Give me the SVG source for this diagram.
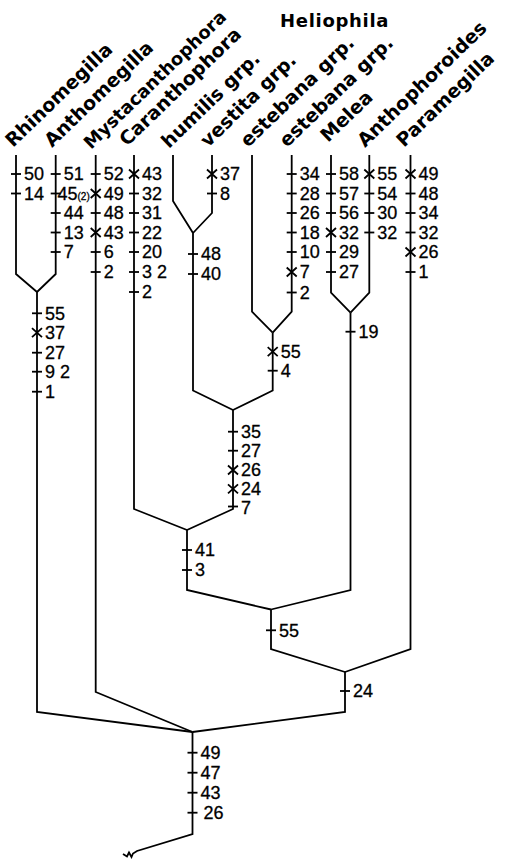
<svg xmlns="http://www.w3.org/2000/svg" xmlns:xlink="http://www.w3.org/1999/xlink" width="507" height="859" viewBox="0 0 507 859">
<style>
.br{fill:none;stroke:#000;stroke-width:1.8;stroke-linejoin:miter}
.mk{stroke:#000;stroke-width:1.8;fill:none}
.n{font-family:"Liberation Sans",Arial,sans-serif;font-size:18px;fill:#000;stroke:#000;stroke-width:0.3}
.s{font-size:10px}
.tx{font-family:"DejaVu Sans","Liberation Sans",sans-serif;font-weight:bold;font-size:19px;fill:#000}
</style>
<defs>
<path id="t" class="mk" d="M-5,0H5"/>
<path id="x" class="mk" d="M-5,-4.5L5,4.5M-5,4.5L5,-4.5"/>
</defs>
<rect width="507" height="859" fill="#fff"/>
<g id="title"><text class="tx" x="280" y="27" style="font-size:18px;letter-spacing:0.7px">Heliophila</text></g>
<g id="taxa">
<g id="Rhinomegilla"><text class="tx" transform="translate(13,148) rotate(-44)">Rhinomegilla</text></g>
<g id="Anthomegilla"><text class="tx" transform="translate(52,148) rotate(-44)">Anthomegilla</text></g>
<g id="Mystacanthophora"><text class="tx" style="font-size:18px" transform="translate(91,150) rotate(-44)">Mystacanthophora</text></g>
<g id="Caranthophora"><text class="tx" transform="translate(127,147) rotate(-44)">Caranthophora</text></g>
<g id="humilis"><text class="tx" transform="translate(169,149) rotate(-44)">humilis grp.</text></g>
<g id="vestita"><text class="tx" transform="translate(208,148) rotate(-44)">vestita grp.</text></g>
<g id="estebana1"><text class="tx" transform="translate(248,148) rotate(-44)">estebana grp.</text></g>
<g id="estebana2"><text class="tx" transform="translate(287,148) rotate(-44)">estebana grp.</text></g>
<g id="Melea"><text class="tx" transform="translate(328,143) rotate(-44)">Melea</text></g>
<g id="Anthophoroides"><text class="tx" transform="translate(365,148) rotate(-44)">Anthophoroides</text></g>
<g id="Paramegilla"><text class="tx" transform="translate(404,148) rotate(-44)">Paramegilla</text></g>
</g>
<g id="connectors" class="br">
<path d="M16,155V274L37,292"/>
<path d="M55.7,155V274L37,292"/>
<path d="M37,292V712L192.5,732"/>
<path d="M95.7,155V692L192.5,732"/>
<path d="M134,155V509L187,530"/>
<path d="M173,155V201L193,233"/>
<path d="M212,155V213L193,233"/>
<path d="M193,233V390.5L233,410"/>
<path d="M252,155V311.7L272.7,332.7"/>
<path d="M291.7,155V311.7L272.7,332.7"/>
<path d="M272.7,332.7V390.5L233,410"/>
<path d="M233,410V509L187,530"/>
<path d="M187,530V590L271,609.5"/>
<path d="M331,155V292.7L350.5,312.7"/>
<path d="M369.3,155V292.7L350.5,312.7"/>
<path d="M350.5,312.7V590L271,609.5"/>
<path d="M271,609.5V649L345,672"/>
<path d="M410.5,155V649L345,672"/>
<path d="M345,672V712L192.5,732"/>
<path d="M192.5,732V834L137,851L133,853.5L131.5,857L129,852.5L127,856.5L123,854"/>
</g>
<g id="marks">
<use href="#t" x="16" y="174"/><text class="n" x="24" y="180.4">50</text>
<use href="#t" x="16" y="193.5"/><text class="n" x="24" y="199.9">14</text>

<use href="#t" x="55.7" y="174"/><text class="n" x="63.7" y="180.4">51</text>
<use href="#t" x="55.7" y="193.5"/><text class="n" x="57.5" y="199.9">45<tspan class="s">(2)</tspan></text>
<use href="#t" x="55.7" y="213"/><text class="n" x="63.7" y="219.4">44</text>
<use href="#t" x="55.7" y="232.5"/><text class="n" x="63.7" y="238.9">13</text>
<use href="#t" x="55.7" y="252"/><text class="n" x="63.7" y="258.4">7</text>

<use href="#t" x="95.7" y="174"/><text class="n" x="103.7" y="180.4">52</text>
<use href="#x" x="95.7" y="193.5"/><text class="n" x="103.7" y="199.9">49</text>
<use href="#t" x="95.7" y="213"/><text class="n" x="103.7" y="219.4">48</text>
<use href="#x" x="95.7" y="232.5"/><text class="n" x="103.7" y="238.9">43</text>
<use href="#t" x="95.7" y="252"/><text class="n" x="103.7" y="258.4">6</text>
<use href="#t" x="95.7" y="272"/><text class="n" x="103.7" y="278.4">2</text>

<use href="#x" x="134" y="174"/><text class="n" x="142" y="180.4">43</text>
<use href="#t" x="134" y="193.5"/><text class="n" x="142" y="199.9">32</text>
<use href="#t" x="134" y="213"/><text class="n" x="142" y="219.4">31</text>
<use href="#t" x="134" y="232.5"/><text class="n" x="142" y="238.9">22</text>
<use href="#t" x="134" y="252"/><text class="n" x="142" y="258.4">20</text>
<use href="#t" x="134" y="272"/><text class="n" x="142" y="278.4">3 2</text>
<use href="#t" x="134" y="292"/><text class="n" x="142" y="298.4">2</text>

<use href="#x" x="212" y="174"/><text class="n" x="220" y="180.4">37</text>
<use href="#t" x="212" y="193.5"/><text class="n" x="220" y="199.9">8</text>

<use href="#t" x="291.7" y="174"/><text class="n" x="299.7" y="180.4">34</text>
<use href="#t" x="291.7" y="193.5"/><text class="n" x="299.7" y="199.9">28</text>
<use href="#t" x="291.7" y="213"/><text class="n" x="299.7" y="219.4">26</text>
<use href="#t" x="291.7" y="232.5"/><text class="n" x="299.7" y="238.9">18</text>
<use href="#t" x="291.7" y="252"/><text class="n" x="299.7" y="258.4">10</text>
<use href="#x" x="291.7" y="272"/><text class="n" x="299.7" y="278.4">7</text>
<use href="#t" x="291.7" y="292.5"/><text class="n" x="299.7" y="298.9">2</text>

<use href="#t" x="331" y="174"/><text class="n" x="339" y="180.4">58</text>
<use href="#t" x="331" y="193.5"/><text class="n" x="339" y="199.9">57</text>
<use href="#t" x="331" y="213"/><text class="n" x="339" y="219.4">56</text>
<use href="#x" x="331" y="232.5"/><text class="n" x="339" y="238.9">32</text>
<use href="#t" x="331" y="252"/><text class="n" x="339" y="258.4">29</text>
<use href="#t" x="331" y="272"/><text class="n" x="339" y="278.4">27</text>

<use href="#x" x="369.3" y="174"/><text class="n" x="377.3" y="180.4">55</text>
<use href="#t" x="369.3" y="193.5"/><text class="n" x="377.3" y="199.9">54</text>
<use href="#t" x="369.3" y="213"/><text class="n" x="377.3" y="219.4">30</text>
<use href="#t" x="369.3" y="232.5"/><text class="n" x="377.3" y="238.9">32</text>

<use href="#x" x="410.5" y="174"/><text class="n" x="418.5" y="180.4">49</text>
<use href="#t" x="410.5" y="193.5"/><text class="n" x="418.5" y="199.9">48</text>
<use href="#t" x="410.5" y="213"/><text class="n" x="418.5" y="219.4">34</text>
<use href="#t" x="410.5" y="232.5"/><text class="n" x="418.5" y="238.9">32</text>
<use href="#x" x="410.5" y="252"/><text class="n" x="418.5" y="258.4">26</text>
<use href="#t" x="410.5" y="272"/><text class="n" x="418.5" y="278.4">1</text>

<use href="#t" x="37" y="313.3"/><text class="n" x="45" y="319.7">55</text>
<use href="#x" x="37" y="332.7"/><text class="n" x="45" y="339.1">37</text>
<use href="#t" x="37" y="352.7"/><text class="n" x="45" y="359.1">27</text>
<use href="#t" x="37" y="371.7"/><text class="n" x="45" y="378.1">9 2</text>
<use href="#t" x="37" y="391.7"/><text class="n" x="45" y="398.1">1</text>

<use href="#t" x="193" y="254"/><text class="n" x="201" y="260.4">48</text>
<use href="#t" x="193" y="274"/><text class="n" x="201" y="280.4">40</text>

<use href="#x" x="272.7" y="351.7"/><text class="n" x="280.7" y="358.1">55</text>
<use href="#t" x="272.7" y="370.7"/><text class="n" x="280.7" y="377.1">4</text>

<use href="#t" x="350.5" y="331.7"/><text class="n" x="358.5" y="338.1">19</text>

<use href="#t" x="233" y="431.7"/><text class="n" x="241" y="438.1">35</text>
<use href="#t" x="233" y="450.7"/><text class="n" x="241" y="457.1">27</text>
<use href="#x" x="233" y="470"/><text class="n" x="241" y="476.4">26</text>
<use href="#x" x="233" y="488.8"/><text class="n" x="241" y="494.7">24</text>
<use href="#t" x="233" y="506.5"/><text class="n" x="241" y="513.5">7</text>

<use href="#t" x="187" y="550"/><text class="n" x="195" y="556.4">41</text>
<use href="#t" x="187" y="570"/><text class="n" x="195" y="576.4">3</text>

<use href="#t" x="271" y="630.3"/><text class="n" x="279" y="636.7">55</text>

<use href="#t" x="345" y="691"/><text class="n" x="353" y="697.4">24</text>

<use href="#t" x="192.5" y="752.7"/><text class="n" x="200.5" y="759.1">49</text>
<use href="#t" x="192.5" y="772.7"/><text class="n" x="200.5" y="779.1">47</text>
<use href="#t" x="192.5" y="792.7"/><text class="n" x="200.5" y="799.1">43</text>
<use href="#t" x="192.5" y="812.7"/><text class="n" x="203.5" y="819.1">26</text>
</g>
</svg>
